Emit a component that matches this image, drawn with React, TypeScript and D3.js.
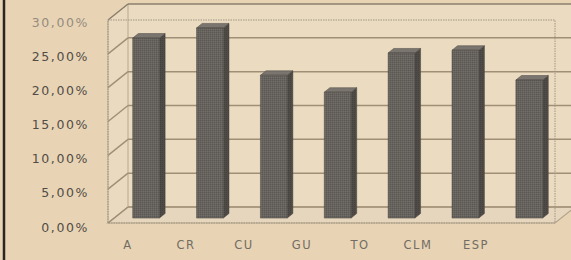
import * as d3 from "d3";
import * as React from "react";

// regions and their share
const regions = ["A", "CR", "CU", "GU", "TO", "CLM", "ESP"];
const shares = [26.6, 28.1, 21.1, 18.6, 24.4, 24.8, 20.4];
const yTicks = [0, 5, 10, 15, 20, 25, 30];

const width = 571;
const height = 260;

export default function App() {
  const left = 108;
  const right = 555;
  const floorY = 223;
  const depthX = 20;
  const depthY = -16;
  const barFront = 0.31;
  const barDepth = 0.28;

  const y = d3.scaleLinear().domain([0, 30]).range([floorY, 20]);
  const x = d3
    .scaleBand()
    .domain(regions)
    .range([left, right])
    .paddingInner(0.58)
    .paddingOuter(0.29);
  // labels sit a bit to the left of the bars in the scan
  const xLabel = d3.scaleBand().domain(regions).range([99, 505]);
  const yLabel = d3.scaleLinear().domain([0, 30]).range([227, 22]);
  const fmt = (v) => d3.format(".2f")(v).replace(".", ",") + "%";

  const bw = x.bandwidth();
  const bdx = depthX * barDepth;
  const bdy = depthY * barDepth;

  const pts = (arr) => arr.map((p) => p.join(",")).join(" ");

  return (
    <svg
      width={width}
      height={height}
      style={{ position: "absolute", left: 0, top: 0, background: "#e8d4b5" }}
    >
      <defs>
        <pattern id="grain" width="2" height="2" patternUnits="userSpaceOnUse">
          <rect width="2" height="2" fill="#67635e" />
          <rect width="1" height="1" fill="#5a5651" />
          <rect x="1" y="1" width="1" height="1" fill="#716c66" />
        </pattern>
        <pattern id="grainDark" width="2" height="2" patternUnits="userSpaceOnUse">
          <rect width="2" height="2" fill="#4f4c48" />
          <rect width="1" height="1" fill="#44413e" />
        </pattern>
      </defs>

      {/* left edge line of the scan */}
      <line x1={4} x2={4} y1={0} y2={height} stroke="#2a2520" strokeWidth={2.5} />

      {/* walls */}
      <polygon
        points={pts([
          [left + depthX, y(0) + depthY],
          [left + depthX, y(30) + depthY],
          [width + 10, y(30) + depthY],
          [width + 10, y(0) + depthY],
        ])}
        fill="#ebdbc1"
      />
      <polygon
        points={pts([
          [left, y(0)],
          [left, y(30)],
          [left + depthX, y(30) + depthY],
          [left + depthX, y(0) + depthY],
        ])}
        fill="#eadabf"
        stroke="#b8a88f"
        strokeWidth={1}
      />
      <polygon
        points={pts([
          [left, floorY],
          [right, floorY],
          [right + depthX, floorY + depthY],
          [left + depthX, floorY + depthY],
        ])}
        fill="#e6d6bd"
        stroke="#b3a38a"
        strokeWidth={1.2}
      />

      {/* gridlines on back and side walls */}
      {yTicks.map((t) => (
        <g key={t} stroke={t === 30 ? "#8c7f6c" : "#a08f76"} strokeWidth={1.5}>
          <line x1={left + depthX} x2={width + 10} y1={y(t) + depthY} y2={y(t) + depthY} />
          <line x1={left} x2={left + depthX} y1={y(t)} y2={y(t) + depthY} />
        </g>
      ))}

      {/* front plane outline */}
      <rect
        x={left}
        y={y(30)}
        width={right - left}
        height={floorY - y(30)}
        fill="none"
        stroke="#a09585"
        strokeWidth={1}
        strokeDasharray="1.5 1"
      />

      {/* bars */}
      {regions.map((r, i) => {
        const x0 = x(r) + depthX * barFront;
        const base = floorY + depthY * barFront;
        const top = y(shares[i]) + depthY * barFront;
        return (
          <g key={r} stroke="#4a4743" strokeWidth={0.5} strokeLinejoin="round">
            <polygon
              points={pts([
                [x0 + bw, top],
                [x0 + bw + bdx, top + bdy],
                [x0 + bw + bdx, base + bdy],
                [x0 + bw, base],
              ])}
              fill="url(#grainDark)"
            />
            <polygon
              points={pts([
                [x0, top],
                [x0 + bdx, top + bdy],
                [x0 + bw + bdx, top + bdy],
                [x0 + bw, top],
              ])}
              fill="#7a756e"
            />
            <rect x={x0} y={top} width={bw} height={base - top} fill="url(#grain)" />
          </g>
        );
      })}

      {/* y axis labels */}
      {yTicks.map((t) => (
        <text
          key={t}
          x={89}
          y={yLabel(t)}
          textAnchor="end"
          dominantBaseline="central"
          fontFamily="DejaVu Sans"
          fontSize={12.5}
          letterSpacing={1.6}
          fill={t === 30 ? "#968b7e" : "#514c46"}
        >
          {fmt(t)}
        </text>
      ))}

      {/* x axis labels */}
      {regions.map((r) => (
        <text
          key={r}
          x={xLabel(r) + xLabel.bandwidth() / 2}
          y={245}
          textAnchor="middle"
          dominantBaseline="central"
          fontFamily="DejaVu Sans"
          fontSize={11.5}
          letterSpacing={1.5}
          fill="#726c64"
        >
          {r}
        </text>
      ))}
    </svg>
  );
}
